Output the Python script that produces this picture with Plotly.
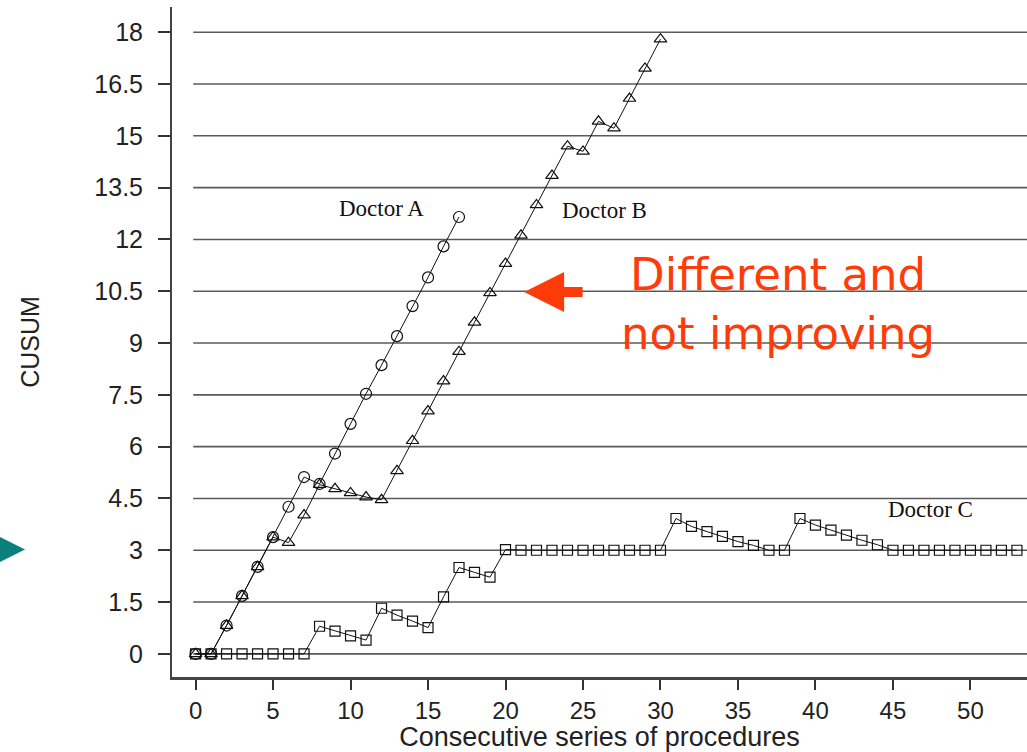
import plotly.graph_objects as go

# ---- data ----
procs_A = list(range(0, 18))
cusum_A = [0, 0, 0.82, 1.68, 2.52, 3.38, 4.26, 5.12, 4.92, 5.8, 6.66, 7.53, 8.36, 9.2,
           10.07, 10.9, 11.8, 12.65]

procs_B = list(range(0, 31))
cusum_B = [0, 0, 0.82, 1.68, 2.52, 3.38, 3.22, 4.02, 4.9, 4.78, 4.66, 4.54, 4.46, 5.3,
           6.17, 7.03, 7.9, 8.75, 9.6, 10.45, 11.3, 12.12, 13.0, 13.85, 14.7, 14.55,
           15.42, 15.22, 16.08, 16.95, 17.8]

procs_C = list(range(0, 54))
cusum_C = [0, 0, 0, 0, 0, 0, 0, 0,
           0.8, 0.66, 0.52, 0.4,
           1.32, 1.12, 0.95, 0.76,
           1.65, 2.5, 2.36, 2.22,
           3.02, 3.0, 3.0, 3.0, 3.0, 3.0, 3.0, 3.0, 3.0, 3.0, 3.0,
           3.92, 3.69, 3.54, 3.4, 3.25, 3.14, 3.0, 3.0,
           3.92, 3.73, 3.58, 3.44, 3.29, 3.16,
           3.0, 3.0, 3.0, 3.0, 3.0, 3.0, 3.0, 3.0, 3.0]

x_ticks = [0, 5, 10, 15, 20, 25, 30, 35, 40, 45, 50]
y_ticks = [0, 1.5, 3, 4.5, 6, 7.5, 9, 10.5, 12, 13.5, 15, 16.5, 18]
y_tick_text = ["0", "1.5", "3", "4.5", "6", "7.5", "9", "10.5", "12", "13.5", "15", "16.5", "18"]

doctor_labels = ["Doctor A", "Doctor B", "Doctor C"]
label_x = [12.0, 26.4, 47.45]
label_y = [12.9, 12.85, 4.17]

X_RANGE = [-1.52, 53.65]
Y_RANGE = [-0.67, 18.73]

fig = go.Figure()

line_style = dict(color="#111", width=1)
fig.add_trace(go.Scatter(x=procs_C, y=cusum_C, mode="lines+markers", line=line_style,
                         marker=dict(symbol="square-open", size=10, color="#111",
                                     line=dict(width=1.2)), name="Doctor C"))
fig.add_trace(go.Scatter(x=procs_B, y=cusum_B, mode="lines+markers", line=line_style,
                         marker=dict(symbol="triangle-up-open", size=11, color="#111",
                                     line=dict(width=1.2)), name="Doctor B"))
fig.add_trace(go.Scatter(x=procs_A, y=cusum_A, mode="lines+markers", line=line_style,
                         marker=dict(symbol="circle-open", size=11, color="#111",
                                     line=dict(width=1.2)), name="Doctor A"))

shapes = []
for yv in y_ticks:
    shapes.append(dict(type="line", xref="x", yref="y", x0=-0.15, x1=X_RANGE[1],
                       y0=yv, y1=yv, line=dict(color="#5a5a5a", width=1.6), layer="below"))

# teal pointer on the far left (outside plot)
L, R, T, B = 172, 0, 7, 75
PW, PH = 1027 - L - R, 752 - T - B
def px(xp):
    return (xp - L) / PW
def py(yp):
    return (752 - B - yp) / PH
shapes.append(dict(type="path", xref="paper", yref="paper",
                   path=f"M {px(-12)} {py(531)} L {px(25)} {py(549.5)} L {px(-12)} {py(568)} Z",
                   fillcolor="#0b7f7b", line=dict(width=0)))

annotations = []
for t, lx, ly in zip(doctor_labels, label_x, label_y):
    annotations.append(dict(x=lx, y=ly, xref="x", yref="y", text=t, showarrow=False,
                            font=dict(family="Liberation Serif, Times New Roman", size=23,
                                      color="#111")))

# red arrow
annotations.append(dict(x=21.2, y=10.48, xref="x", yref="y", text="", showarrow=True,
                        ax=60, ay=0, arrowhead=2, arrowwidth=10, arrowsize=0.8,
                        arrowcolor="#ff3b0a"))
annotations.append(dict(x=px(778), y=py(304), xref="paper", yref="paper",
                        xanchor="center", yanchor="middle",
                        text="Different and<br>not improving", showarrow=False,
                        align="center",
                        font=dict(family="DejaVu Sans", size=45, color="#ff3b0a")))

fig.update_layout(
    width=1027, height=752,
    margin=dict(l=L, r=R, t=T, b=B, pad=0),
    paper_bgcolor="white", plot_bgcolor="white",
    showlegend=False,
    shapes=shapes, annotations=annotations,
    font=dict(family="Liberation Sans, Arial", color="#222"),
    xaxis=dict(range=X_RANGE, tickvals=x_ticks, ticks="outside", ticklen=10, tickwidth=1.5,
               tickcolor="#333", showgrid=False, zeroline=False, showline=True,
               linecolor="#444", linewidth=2.5, tickfont=dict(size=24, color="#222"),
               title=dict(text="Consecutive series of procedures", font=dict(size=27, color="#222"),
                          standoff=0)),
    yaxis=dict(range=Y_RANGE, tickvals=y_ticks, ticktext=y_tick_text, ticks="outside",
               ticklen=12, tickwidth=1.5, tickcolor="#333", showgrid=False, zeroline=False,
               showline=True, linecolor="#444", linewidth=2, tickfont=dict(size=25, color="#222"),
               ticklabelstandoff=10,
               title=dict(text="CUSUM", font=dict(size=25, color="#222"), standoff=48)),
)

fig.write_html("out.html")
